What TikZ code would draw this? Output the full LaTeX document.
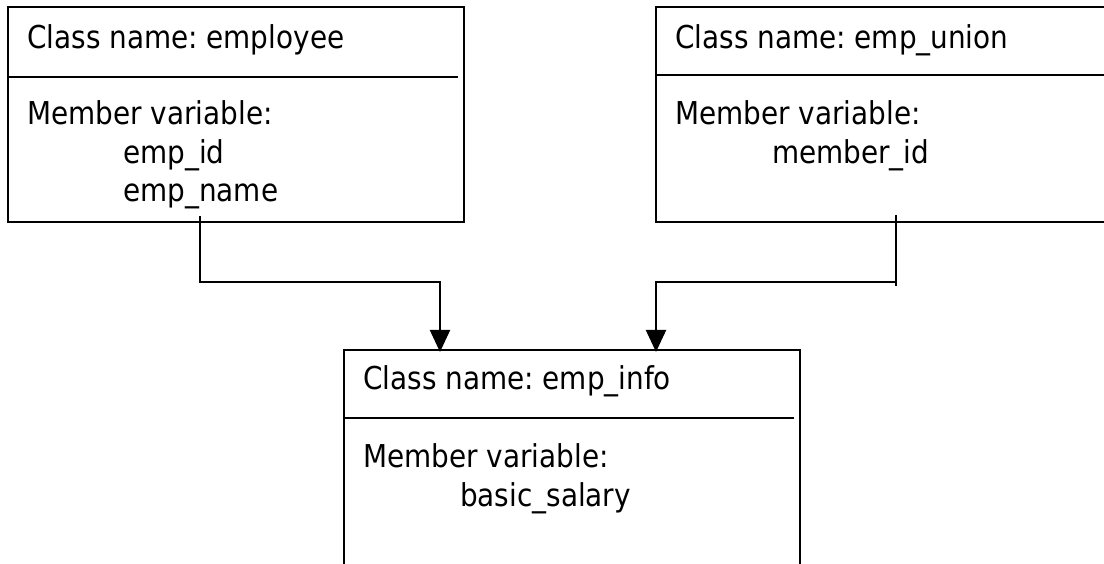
\documentclass[tikz,border=0pt]{standalone}
\usepackage{fontspec}
\setmainfont{DejaVu Sans}[FakeStretch=0.885]
\usetikzlibrary{arrows.meta, calc, positioning}
\frenchspacing
\tikzset{
 classbox/.style = {
    rectangle, draw, line width=2pt,
    minimum width=456pt,
    minimum height=215pt,
    inner sep=0pt},
 line/.style = {
    draw, line width=2pt},
 arrowline/.style = {
    line, shorten >=-3pt, -{Triangle[length=22pt,width=20pt]}},
 entry/.style = {
    anchor=base west, inner sep=0pt,
    font=\fontsize{31.5}{38}\selectfont},
}
\begin{document}
\begin{tikzpicture}[x=1pt, y=-1pt]
    \clip (0,0) rectangle (1104,564);

    % Place nodes
    \node [classbox]                        (employee) at (236,114.5) {};
    \node [classbox, right=190pt of employee] (union)    {};
    \node [classbox]                        (info)     at (572,457.5) {};

    % Dividers
    \draw [line] ($(employee.north west)+(0,71)$) -- ($(employee.north east)+(-7,71)$);
    \draw [line] ($(union.north west)+(0,69)$) -- ($(union.north east)+(-7,69)$);
    \draw [line] ($(info.north west)+(0,69)$) -- ($(info.north east)+(-7,69)$);

    % Texts
    \node [entry] (employee title)  at ($(employee.north west)+(20,43)$)  {Class name: employee};
    \node [entry] (employee member) at ($(employee.north west)+(20,119)$) {Member variable:};
    \node [entry] (employee id)     at ($(employee.north west)+(116,158)$) {emp\_id};
    \node [entry] (employee name)   at ($(employee.north west)+(116,196)$) {emp\_name};

    \node [entry] (union title)  at ($(union.north west)+(20,43)$)  {Class name: emp\_union};
    \node [entry] (union member) at ($(union.north west)+(20,119)$) {Member variable:};
    \node [entry] (union id)     at ($(union.north west)+(117,158)$) {member\_id};

    \node [entry] (info title)  at ($(info.north west)+(20,40)$)  {Class name: emp\_info};
    \node [entry] (info member) at ($(info.north west)+(20,118)$) {Member variable:};
    \node [entry] (info salary) at ($(info.north west)+(117,157)$) {basic\_salary};

    % Connectors
    \path [arrowline] ($(employee.south)+(-36,-7)$) -- ++(0,66) -| ($(info.north)+(-132,0)$);
    \path [arrowline] ($(union.south)+(12,-8)$) -- ++(0,67) -| ($(info.north)+(84,0)$);
    \path [line] ($(union.south)+(12,58)$) -- ++(0,5);

\end{tikzpicture}
\end{document}
